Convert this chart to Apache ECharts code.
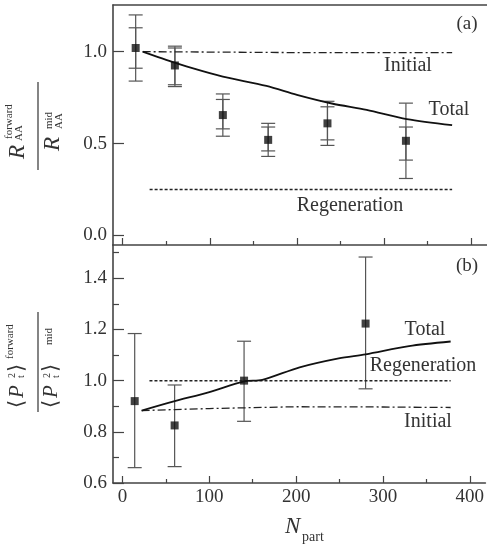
<!DOCTYPE html>
<html>
<head>
<meta charset="utf-8">
<script src="https://cdn.jsdelivr.net/npm/echarts@6/dist/echarts.min.js"></script>
<style>
  html, body { margin: 0; padding: 0; background: #fff; }
  #chart { width: 487px; height: 547px; }
</style>
</head>
<body>
<div id="chart"></div>
<script>
// tick labels
const xTicks = [0, 100, 200, 300, 400];
const xMinor = [50, 150, 250, 350];
const topYTicks = [0, 0.5, 1.0];
const botYTicks = [0.6, 0.8, 1.0, 1.2, 1.4];
const botYMinor = [0.7, 0.9, 1.1, 1.3, 1.5];

// panel (a): R_AA forward / mid
const npartA = [15, 60, 115, 167, 235, 325];
const ratioA = [1.02, 0.925, 0.655, 0.52, 0.61, 0.515];
const outerLoA = [0.84, 0.81, 0.54, 0.43, 0.49, 0.31];
const outerHiA = [1.20, 1.03, 0.77, 0.61, 0.73, 0.72];
const innerLoA = [0.91, 0.82, 0.58, 0.46, 0.52, 0.41];
const innerHiA = [1.13, 1.02, 0.74, 0.59, 0.70, 0.59];

const totalXA = [23, 50, 80, 115, 165, 200, 240, 280, 326, 378];
const totalYA = [1.0, 0.955, 0.91, 0.864, 0.814, 0.765, 0.718, 0.683, 0.633, 0.60];
const initXA = [23, 100, 200, 300, 378];
const initYA = [1.0, 0.998, 0.995, 0.995, 0.995];
const regenXA = [31, 378];
const regenYA = [0.25, 0.25];

// panel (b): <pt^2> forward / mid
const npartB = [14, 60, 140, 280];
const ratioB = [0.92, 0.825, 1.0, 1.223];
const errLoB = [0.66, 0.664, 0.841, 0.968];
const errHiB = [1.184, 0.983, 1.154, 1.483];

const totalXB = [22, 58, 100, 140, 161, 204, 249, 280, 330, 378];
const totalYB = [0.883, 0.918, 0.955, 0.997, 1.003, 1.052, 1.087, 1.103, 1.135, 1.153];
const initXB = [22, 60, 100, 200, 300, 378];
const initYB = [0.883, 0.887, 0.891, 0.898, 0.897, 0.895];
const regenXB = [31, 378];
const regenYB = [1.0, 1.0];

const SERIF = '"Liberation Serif","DejaVu Serif",serif';
const AX = '#444';
const zip = (xs, ys) => xs.map((x, i) => [x, ys[i]]);

function errBar(params, api) {
  const x = api.value(0);
  const p1 = api.coord([x, api.value(1)]);
  const p2 = api.coord([x, api.value(2)]);
  const w = 7;
  const st = { stroke: '#555', lineWidth: 1.2 };
  return {
    type: 'group',
    children: [
      { type: 'line', shape: { x1: p1[0], y1: p1[1], x2: p2[0], y2: p2[1] }, style: st },
      { type: 'line', shape: { x1: p1[0] - w, y1: p1[1], x2: p1[0] + w, y2: p1[1] }, style: st },
      { type: 'line', shape: { x1: p2[0] - w, y1: p2[1], x2: p2[0] + w, y2: p2[1] }, style: st }
    ]
  };
}

function xAx(grid, opts) {
  return Object.assign({
    type: 'value', gridIndex: grid, min: -11, max: 418, position: 'bottom',
    axisLine: { show: false, onZero: false },
    axisTick: { show: false },
    axisLabel: { show: false },
    splitLine: { show: false }
  }, opts);
}
function yAx(grid, min, max, opts) {
  return Object.assign({
    type: 'value', gridIndex: grid, min: min, max: max, position: 'left',
    axisLine: { show: false, onZero: false },
    axisTick: { show: false },
    axisLabel: { show: false },
    splitLine: { show: false }
  }, opts);
}
const axLine = { show: true, onZero: false, lineStyle: { color: AX, width: 1.6 } };
const tickLbl = { show: true, fontFamily: SERIF, fontSize: 19, color: '#333' };

function txt(x, y, s, size, extra) {
  return {
    type: 'text', x: x, y: y,
    style: Object.assign({
      text: s, fontFamily: SERIF, fontSize: size, fill: '#333',
      align: 'center', verticalAlign: 'middle'
    }, extra || {})
  };
}
// left aligned, vertically centred pieces for the composed titles
function it(x, y, s, size) {
  return txt(x, y, s, size, { fontStyle: 'italic', align: 'left' });
}
function sm(x, y, s, size) {
  return txt(x, y, s, size, { align: 'left' });
}

const chart = echarts.init(document.getElementById('chart'));
chart.setOption({
  animation: false,
  grid: [
    { left: 113, top: 5, width: 374, height: 240 },
    { left: 113, top: 245, width: 374, height: 238 }
  ],
  xAxis: [
    xAx(0, { axisLine: axLine, axisTick: { show: true, inside: true, length: 7, customValues: xTicks, lineStyle: { color: AX, width: 1.2 } } }),
    xAx(0, { axisTick: { show: true, inside: true, length: 4, customValues: xMinor, lineStyle: { color: AX, width: 1.2 } } }),
    xAx(0, { position: 'top', axisLine: axLine }),
    xAx(1, {
      axisLine: axLine,
      axisTick: { show: true, inside: true, length: 7, customValues: xTicks, lineStyle: { color: AX, width: 1.2 } },
      axisLabel: Object.assign({ customValues: xTicks, margin: 5 }, tickLbl)
    }),
    xAx(1, { axisTick: { show: true, inside: true, length: 4, customValues: xMinor, lineStyle: { color: AX, width: 1.2 } } })
  ],
  yAxis: [
    yAx(0, -0.052, 1.254, {
      axisLine: axLine,
      axisTick: { show: true, inside: true, length: 11, customValues: topYTicks, lineStyle: { color: AX, width: 1.2 } },
      axisLabel: Object.assign({ customValues: topYTicks, margin: 6, formatter: v => v.toFixed(1) }, tickLbl)
    }),
    yAx(1, 0.6, 1.53, {
      axisLine: axLine,
      axisTick: { show: true, inside: true, length: 11, customValues: botYTicks, lineStyle: { color: AX, width: 1.2 } },
      axisLabel: Object.assign({ customValues: botYTicks, margin: 6, formatter: v => v.toFixed(1) }, tickLbl)
    }),
    yAx(1, 0.6, 1.53, {
      axisTick: { show: true, inside: true, length: 6, customValues: botYMinor, lineStyle: { color: AX, width: 1.2 } }
    })
  ],
  series: [
    // panel (a)
    { type: 'line', xAxisIndex: 0, yAxisIndex: 0, data: zip(initXA, initYA), showSymbol: false,
      lineStyle: { color: '#222', width: 1.3, type: [8, 3, 2, 3] } },
    { type: 'line', xAxisIndex: 0, yAxisIndex: 0, data: zip(regenXA, regenYA), showSymbol: false,
      lineStyle: { color: '#222', width: 1.5, type: [3, 2] } },
    { type: 'line', xAxisIndex: 0, yAxisIndex: 0, data: zip(totalXA, totalYA), showSymbol: false, smooth: 0.3,
      lineStyle: { color: '#111', width: 1.8 } },
    { type: 'custom', xAxisIndex: 0, yAxisIndex: 0, renderItem: errBar,
      data: npartA.map((x, i) => [x, outerLoA[i], outerHiA[i]]), encode: { x: 0, y: [1, 2] } },
    { type: 'custom', xAxisIndex: 0, yAxisIndex: 0, renderItem: errBar,
      data: npartA.map((x, i) => [x, innerLoA[i], innerHiA[i]]), encode: { x: 0, y: [1, 2] } },
    { type: 'scatter', xAxisIndex: 0, yAxisIndex: 0, data: zip(npartA, ratioA),
      symbol: 'rect', symbolSize: 8, itemStyle: { color: '#111' } },
    // panel (b)
    { type: 'line', xAxisIndex: 3, yAxisIndex: 1, data: zip(initXB, initYB), showSymbol: false,
      lineStyle: { color: '#222', width: 1.3, type: [8, 3, 2, 3] } },
    { type: 'line', xAxisIndex: 3, yAxisIndex: 1, data: zip(regenXB, regenYB), showSymbol: false,
      lineStyle: { color: '#222', width: 1.5, type: [3, 2] } },
    { type: 'line', xAxisIndex: 3, yAxisIndex: 1, data: zip(totalXB, totalYB), showSymbol: false, smooth: 0.3,
      lineStyle: { color: '#111', width: 1.8 } },
    { type: 'custom', xAxisIndex: 3, yAxisIndex: 1, renderItem: errBar,
      data: npartB.map((x, i) => [x, errLoB[i], errHiB[i]]), encode: { x: 0, y: [1, 2] } },
    { type: 'scatter', xAxisIndex: 3, yAxisIndex: 1, data: zip(npartB, ratioB),
      symbol: 'rect', symbolSize: 8, itemStyle: { color: '#111' } }
  ],
  graphic: [
    // curve and panel labels
    txt(467, 24, '(a)', 19),
    txt(408, 66, 'Initial', 20),
    txt(449, 110, 'Total', 20),
    txt(350, 206, 'Regeneration', 20),
    txt(467, 266, '(b)', 19),
    txt(425, 330, 'Total', 20),
    txt(423, 366, 'Regeneration', 20),
    txt(428, 422, 'Initial', 20),
    // x axis title
    it(285, 527, 'N', 23),
    sm(302, 537, 'part', 14),
    // y axis title (a)
    {
      type: 'group', x: 38, y: 126, rotation: Math.PI / 2,
      children: [
        { type: 'line', shape: { x1: -44, y1: 0, x2: 44, y2: 0 }, style: { stroke: '#333', lineWidth: 1.2 } },
        it(-33, -20, 'R', 23),
        sm(-13, -29, 'forward', 11),
        sm(-15, -19, 'AA', 11),
        it(-25, 15, 'R', 23),
        sm(-3, 11, 'mid', 11),
        sm(-3, 21, 'AA', 11)
      ]
    },
    // y axis title (b)
    {
      type: 'group', x: 38, y: 362, rotation: Math.PI / 2,
      children: [
        { type: 'line', shape: { x1: -50, y1: 0, x2: 50, y2: 0 }, style: { stroke: '#333', lineWidth: 1.2 } },
        sm(-46, -21, '\u27E8', 21),
        it(-36, -21, 'P', 21),
        sm(-16, -26, '2', 10),
        sm(-16, -17, 't', 10),
        sm(-10, -21, '\u27E9', 21),
        sm(3, -28, 'forward', 11),
        sm(-46, 13, '\u27E8', 21),
        it(-36, 13, 'P', 21),
        sm(-16, 9, '2', 10),
        sm(-16, 18, 't', 10),
        sm(-10, 13, '\u27E9', 21),
        sm(17, 11, 'mid', 11)
      ]
    }
  ]
});
</script>
</body>
</html>
